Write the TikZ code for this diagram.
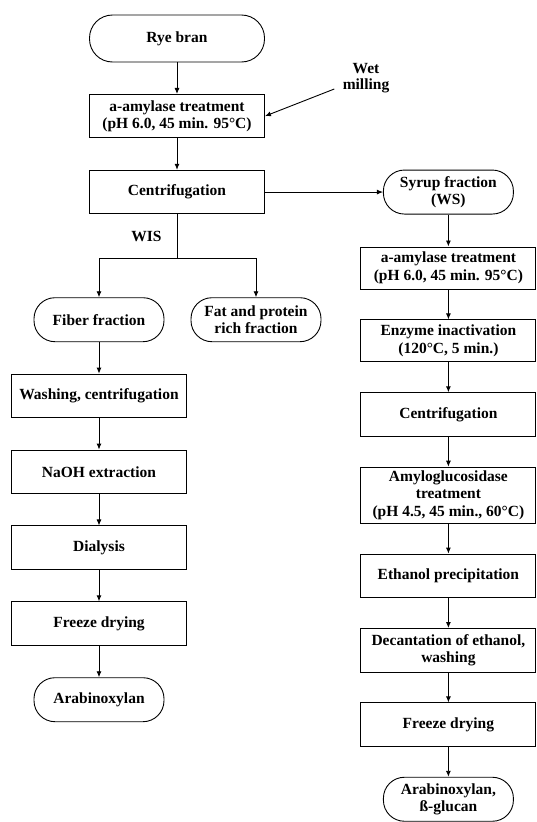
\documentclass[tikz,border=0pt]{standalone}
\usepackage{fontspec}
\setmainfont{Liberation Serif}
\usetikzlibrary{arrows.meta,positioning}
\tikzset{
  procbox/.style={draw, align=center, minimum width=175pt, minimum height=43.5pt, inner sep=2pt, font=\fontsize{15.5}{17.5}\selectfont\bfseries},
  endbox/.style={draw, rounded corners=21pt, align=center, minimum width=130pt, minimum height=44pt, inner sep=2pt, font=\fontsize{15.5}{17.5}\selectfont\bfseries},
  notetext/.style={align=center, inner sep=0pt, font=\fontsize{15.5}{16.5}\selectfont\bfseries},
  arrow/.style={-{Latex[length=6pt,width=5pt]}, line width=0.9pt}
}

\begin{document}
\begin{tikzpicture}[x=1pt, y=-1pt, node distance=31.5pt, line width=0.9pt]
    \useasboundingbox (0,0) rectangle (537,822);
    \node[endbox, minimum width=175pt, minimum height=47pt, rounded corners=23pt] (rye) at (177,38.5) {Rye bran};
    \node[procbox, below=of rye] (amyl1) {a-amylase treatment\\(pH 6.0, 45 min. 95°C)};
    \node[procbox, below=of amyl1] (centrif) {Centrifugation};
    \node[notetext] (wet) at (366,78) {Wet\\milling};
    \node[endbox, right=118pt of centrif] (syrup) {Syrup fraction\\(WS)};
    \coordinate[below=44pt of centrif] (split);
    \node[endbox, below=39pt of split, xshift=-78pt] (fiber) {Fiber fraction};
    \node[endbox, below=39pt of split, xshift=79pt] (fat) {Fat and protein\\rich fraction};

    % insoluble part
    \node[procbox, below=of fiber] (wash) {Washing, centrifugation};
    \node[procbox, below=of wash] (naoh) {NaOH extraction};
    \node[procbox, below=of naoh] (dial) {Dialysis};
    \node[procbox, below=of dial] (freeze1) {Freeze drying};
    \node[endbox, below=of freeze1] (arab1) {Arabinoxylan};

    % syrup part
    \begin{scope}[node distance=30pt]
    \node[procbox, below=32pt of syrup, minimum height=42pt] (amyl2) {a-amylase treatment\\(pH 6.0, 45 min. 95°C)};
    \node[procbox, below=of amyl2, minimum height=42pt] (inact) {Enzyme inactivation\\(120°C, 5 min.)};
    \node[procbox, below=of inact] (centrif2) {Centrifugation};
    \node[procbox, below=of centrif2, minimum height=56pt] (amylo) {Amyloglucosidase\\treatment\\(pH 4.5, 45 min., 60°C)};
    \node[procbox, below=of amylo] (ethanol) {Ethanol precipitation};
    \node[procbox, below=of ethanol] (decant) {Decantation of ethanol,\\washing};
    \node[procbox, below=of decant] (freeze2) {Freeze drying};
    \node[endbox, below=of freeze2] (arab2) {Arabinoxylan,\\ß-glucan};
    \end{scope}

    \draw[arrow] (rye) -- (amyl1);
    \draw[arrow] (amyl1) -- (centrif);
    \draw[arrow] ([xshift=-8pt,yshift=-11pt]wet.west) -- (amyl1.east);
    \draw[arrow] (centrif) -- (syrup);
    \draw[arrow] (centrif) -- node[notetext, left=15pt] {WIS} (split) -| (fiber);
    \draw[arrow] (split) -| (fat);

    \draw[arrow] (fiber) -- (wash);
    \draw[arrow] (wash) -- (naoh);
    \draw[arrow] (naoh) -- (dial);
    \draw[arrow] (dial) -- (freeze1);
    \draw[arrow] (freeze1) -- (arab1);

    \draw[arrow] (syrup) -- (amyl2);
    \draw[arrow] (amyl2) -- (inact);
    \draw[arrow] (inact) -- (centrif2);
    \draw[arrow] (centrif2) -- (amylo);
    \draw[arrow] (amylo) -- (ethanol);
    \draw[arrow] (ethanol) -- (decant);
    \draw[arrow] (decant) -- (freeze2);
    \draw[arrow] (freeze2) -- (arab2);
  \end{tikzpicture}
\end{document}
